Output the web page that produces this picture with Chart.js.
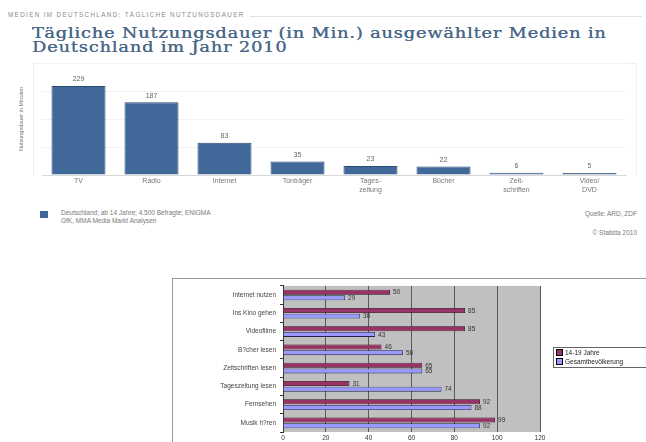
<!DOCTYPE html>
<html>
<head>
<meta charset="utf-8">
<script src="https://cdn.jsdelivr.net/npm/chart.js@4"></script>
<style>
  html, body { margin: 0; padding: 0; background: #fff; overflow: hidden; }
  body { width: 646px; height: 442px; position: relative; font-family: "Liberation Sans", Arial, sans-serif; }
  .abs { position: absolute; }
  #kicker { left: 8px; top: 11px; font-size: 6.3px; color: #8a8a8a; letter-spacing: 1.35px; white-space: nowrap; }
  #kickerLine { left: 250px; top: 16px; width: 392px; height: 0; border-top: 1px solid #e2e2e2; }
  #title { left: 32px; top: 26px; font-family: "DejaVu Serif", serif; font-size: 15px; line-height: 14px; letter-spacing: 0.7px; color: #4a698a; white-space: nowrap; transform: scaleX(1.185); transform-origin: 0 0; text-shadow: 0.3px 0 0 #4a698a; }
  #frame1 { left: 33px; top: 63px; width: 602px; height: 112px; border: 1px solid #f0f0f0; border-bottom: none; }
  #c1 { left: 0; top: 55px; }
  #c2 { left: 172px; top: 278px; }
  #frame2 { left: 172px; top: 278px; width: 480px; height: 170px; border-left: 1px solid #999; border-top: 1px solid #999; }
  .foot { font-size: 6.5px; color: #7a7a7a; line-height: 8px; white-space: nowrap; }
  #legSq { left: 40px; top: 211px; width: 8px; height: 7px; background: #40699a; }
  #legTxt { left: 61px; top: 209px; }
  #src { right: 9px; top: 210px; }
  #copy { right: 9px; top: 229px; }
  #leg2 { left: 553px; top: 347px; width: 100px; height: 19px; border: 1px solid #666; font-size: 6.5px; color: #222; line-height: 9px; padding-left: 2px; white-space: nowrap; }
  #leg2 span.sq { display: inline-block; width: 5px; height: 5px; border: 1px solid #000; margin-right: 2px; vertical-align: -1px; }
</style>
</head>
<body>
<div id="kicker" class="abs">MEDIEN IM DEUTSCHLAND: TÄGLICHE NUTZUNGSDAUER</div>
<div id="kickerLine" class="abs"></div>
<div id="title" class="abs">Tägliche Nutzungsdauer (in Min.) ausgewählter Medien in<br>Deutschland im Jahr 2010</div>
<div id="frame1" class="abs"></div>
<canvas id="c1" class="abs" width="646" height="142"></canvas>
<div id="legSq" class="abs"></div>
<div id="legTxt" class="abs foot">Deutschland; ab 14 Jahre; 4.500 Befragte; ENIGMA<br>GfK, MMA Media Markt Analysen</div>
<div id="src" class="abs foot">Quelle: ARD, ZDF</div>
<div id="copy" class="abs foot">© Statista 2010</div>

<div id="frame2" class="abs"></div>
<canvas id="c2" class="abs" width="474" height="164"></canvas>
<div id="leg2" class="abs"></div>

<script>
// top chart: minutes per day
const mediaLabels = ['TV', 'Radio', 'Internet', 'Tonträger', ['Tages-', 'zeitung'], 'Bücher', ['Zeit-', 'schriften'], ['Video/', 'DVD']];
const mediaMinutes = [229, 187, 83, 35, 23, 22, 6, 5];
const mediaSeriesName = 'Deutschland; ab 14 Jahre; 4.500 Befragte; ENIGMA GfK, MMA Media Markt Analysen';

// bottom chart: activities by group
const activityLabels = ['Internet nutzen', 'Ins Kino gehen', 'Videofilme', 'B?cher lesen', 'Zeitschriften lesen', 'Tageszeitung lesen', 'Fernsehen', 'Musik h?ren'];
const youthName = '14-19 Jahre';
const youthValues = [50, 85, 85, 46, 65, 31, 92, 99];
const totalName = 'Gesamtbevölkerung';
const totalValues = [29, 36, 43, 56, 65, 74, 88, 92];
const xTicks = [0, 20, 40, 60, 80, 100, 120];

const sans = '"Liberation Sans", Arial, sans-serif';

// value labels above / beside bars
const valueLabels = {
    id: 'valueLabels',
    afterDatasetsDraw(chart, args, opts) {
        const ctx = chart.ctx;
        ctx.save();
        ctx.font = opts.font;
        ctx.fillStyle = opts.color;
        chart.data.datasets.forEach((ds, i) => {
            chart.getDatasetMeta(i).data.forEach((bar, j) => {
                const v = ds.data[j];
                if (opts.horizontal) {
                    ctx.textAlign = 'left';
                    ctx.textBaseline = 'middle';
                    ctx.fillText(v, bar.x + 3, bar.y + 0.5);
                } else {
                    ctx.textAlign = 'center';
                    ctx.textBaseline = 'bottom';
                    ctx.fillText(v, bar.x, bar.y - 3);
                }
            });
        });
        ctx.restore();
    }
};

const plotBg = {
    id: 'plotBg',
    beforeDraw(chart, args, opts) {
        if (!opts.color) return;
        const a = chart.chartArea;
        chart.ctx.save();
        chart.ctx.fillStyle = opts.color;
        chart.ctx.fillRect(a.left, a.top, a.right - a.left, a.bottom - a.top);
        chart.ctx.restore();
    }
};

Chart.register(valueLabels, plotBg);

new Chart(document.getElementById('c1'), {
    type: 'bar',
    data: {
        labels: mediaLabels,
        datasets: [{
            label: mediaSeriesName,
            data: mediaMinutes,
            backgroundColor: '#40699a',
            borderColor: '#2c4d73',
            borderWidth: 1,
            categoryPercentage: 1,
            barPercentage: 0.74
        }]
    },
    options: {
        responsive: false,
        animation: false,
        layout: { padding: { left: 0, right: 20, top: 8, bottom: 0 } },
        plugins: {
            legend: { display: false },
            tooltip: { enabled: false },
            valueLabels: { font: '7px ' + sans, color: '#666' }
        },
        scales: {
            x: {
                grid: { display: false, drawTicks: false },
                border: { color: '#d8d8d8' },
                ticks: { font: { family: sans, size: 7 }, color: '#777', padding: 2, maxRotation: 0, autoSkip: false },
                afterFit: s => { s.height = 22; }
            },
            y: {
                min: 0,
                max: 288,
                ticks: { display: false, stepSize: 72 },
                grid: { color: '#f3f3f3', drawTicks: false },
                border: { display: false },
                title: { display: true, text: 'Nutzungsdauer in Minuten', font: { family: sans, size: 5.5 }, color: '#777', padding: { top: 18, bottom: 0 } },
                afterFit: s => { s.width = 42; }
            }
        }
    }
});

new Chart(document.getElementById('c2'), {
    type: 'bar',
    data: {
        labels: activityLabels,
        datasets: [
            { label: youthName, data: youthValues, backgroundColor: '#993366', borderColor: '#2a0a1a', borderWidth: 0.8, categoryPercentage: 0.62, barPercentage: 0.88 },
            { label: totalName, data: totalValues, backgroundColor: '#9999ff', borderColor: '#22224a', borderWidth: 0.8, categoryPercentage: 0.62, barPercentage: 0.88 }
        ]
    },
    options: {
        indexAxis: 'y',
        responsive: false,
        animation: false,
        layout: { padding: { left: 0, right: 106, top: 5, bottom: 0 } },
        plugins: {
            legend: { display: false },
            tooltip: { enabled: false },
            plotBg: { color: '#c0c0c0' },
            valueLabels: { font: '6.5px ' + sans, color: '#333', horizontal: true }
        },
        scales: {
            x: {
                min: 0,
                max: 120,
                afterBuildTicks: s => { s.ticks = xTicks.map(v => ({ value: v })); },
                grid: { color: '#5a5a5a', drawTicks: false },
                border: { display: false },
                ticks: { font: { family: sans, size: 6.5 }, color: '#333', padding: 2 },
                afterFit: s => { s.height = 10; }
            },
            y: {
                grid: { drawOnChartArea: false, tickLength: 3, color: '#333' },
                border: { color: '#333' },
                ticks: { font: { family: sans, size: 6.5 }, color: '#444', padding: 4 },
                afterFit: s => { s.width = 111; }
            }
        }
    }
});

// html legend for the lower chart, built from the series names
document.getElementById('leg2').innerHTML =
    '<span class="sq" style="background:#993366"></span>' + youthName + '<br>' +
    '<span class="sq" style="background:#9999ff"></span>' + totalName;
</script>
</body>
</html>
